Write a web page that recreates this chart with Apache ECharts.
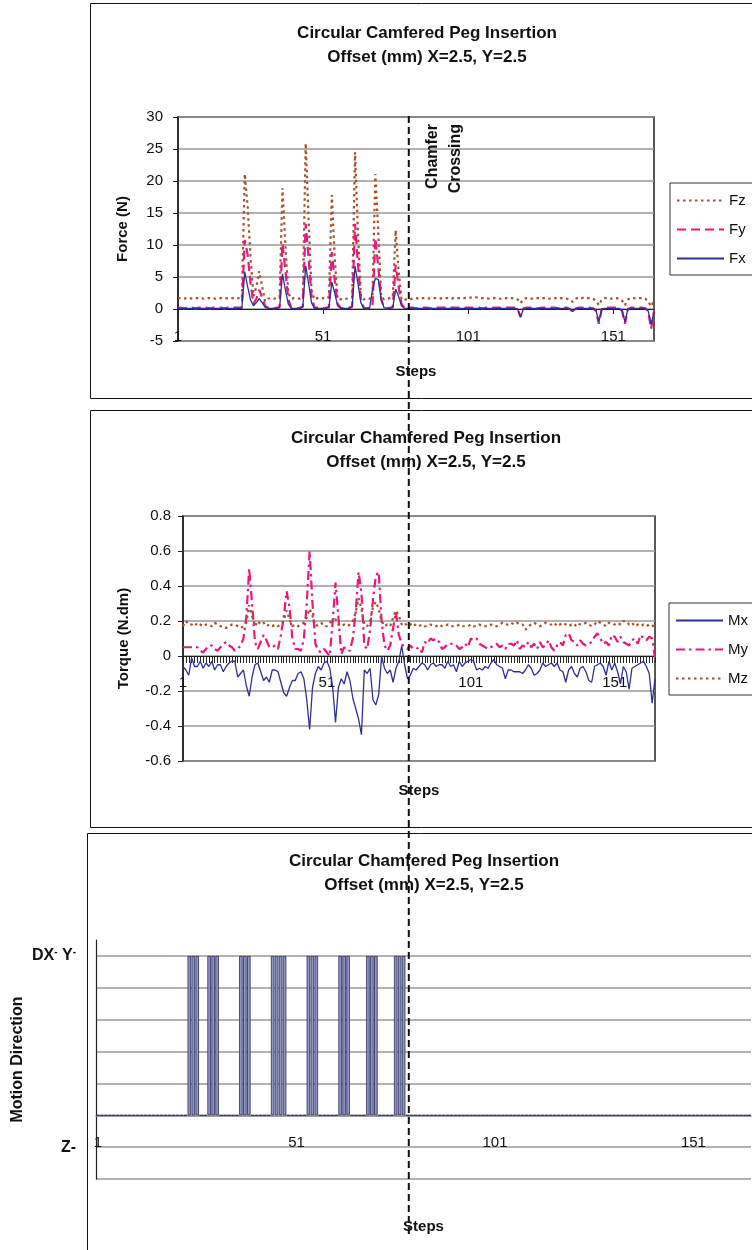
<!DOCTYPE html>
<html lang="en">
<head>
<meta charset="UTF-8">
<title>Circular Chamfered Peg Insertion</title>
<script src="https://cdn.jsdelivr.net/npm/echarts@6/dist/echarts.min.js"></script>
<style>
    html, body { margin: 0; background: #fff; }
    #main { width: 752px; height: 1250px; }
</style>
</head>
<body>
<div id="main"></div>
<script>
// ---- data ----
var stepCount = 165;
var chamferStep = 80;
var titleForce = 'Circular Camfered Peg Insertion';
var titleTorque = 'Circular Chamfered Peg Insertion';
var titleMotion = 'Circular Chamfered Peg Insertion';
var subTitle = 'Offset (mm) X=2.5, Y=2.5';

// force (N)
var fz = [
    1.7,1.7,1.6,1.7,1.7,1.6,1.7,1.7,1.7,1.6, 1.7,1.7,1.7,1.6,1.7,1.7,1.6,1.7,1.7,1.7,
    1.6,1.7,1.6,21.1,16.0,8.0,2.0,3.5,5.9,3.5, 1.2,1.6,1.7,1.6,1.7,1.8,18.9,10.0,2.5,1.6,
    1.7,1.7,1.6,1.8,25.9,14.0,3.0,1.5,1.7,1.6, 1.7,1.6,1.9,17.8,8.0,1.5,1.5,1.7,1.6,1.7,
    1.8,24.5,12.0,2.0,1.5,1.7,1.6,1.9,21.1,12.0, 2.0,1.5,1.6,1.7,2.0,12.3,6.0,1.5,1.4,1.6,
    1.5,1.7,1.7,1.6,1.7,1.7,1.6,1.7,1.7,1.7, 1.6,1.7,1.7,1.7,1.6,1.7,1.7,1.7,1.7,1.7,
    1.7,1.8,1.9,1.8,1.7,1.7,1.7,1.6,1.7,1.7, 1.7,1.6,1.7,1.7,1.7,1.7,1.6,1.5,0.9,1.5,
    1.7,1.7,1.6,1.7,1.7,1.6,1.7,1.7,1.6,1.7, 1.7,1.6,1.7,1.7,1.6,1.5,1.1,1.6,1.8,1.7,
    1.8,1.7,1.7,1.6,1.3,0.6,1.5,1.7,1.7,1.6, 1.7,1.7,1.6,1.3,0.6,1.5,1.7,1.7,1.6,1.7,
    1.7,1.6,1.2,0.4,1.3
];
var fy = [
    0.2,0.2,0.1,0.2,0.2,0.2,0.1,0.2,0.2,0.2, 0.2,0.1,0.2,0.2,0.2,0.2,0.1,0.2,0.2,0.2,
    0.2,0.2,0.3,10.8,8.5,4.0,0.8,1.6,3.0,1.8, 0.5,0.2,0.2,0.1,0.2,0.3,10.2,6.0,1.5,0.2,
    0.2,0.1,0.2,0.4,13.3,8.0,2.0,0.2,0.2,0.2, 0.1,0.2,0.3,8.9,4.5,0.8,0.2,0.1,0.2,0.2,
    0.4,13.3,7.0,1.5,0.2,0.1,0.2,0.3,11.1,6.5, 1.5,0.2,0.1,0.2,0.3,6.9,3.5,0.8,0.2,0.2,
    0.2,0.2,0.1,0.2,0.2,0.2,0.2,0.1,0.2,0.2, 0.2,0.2,0.2,0.1,0.2,0.2,0.2,0.2,0.1,0.2,
    0.2,0.2,0.2,0.2,0.2,0.1,0.2,0.2,0.2,0.2, 0.2,0.2,0.1,0.2,0.2,0.2,0.2,0.0,-1.2,0.1,
    0.2,0.2,0.2,0.2,0.1,0.2,0.2,0.2,0.2,0.2, 0.2,0.1,0.2,0.2,0.2,0.0,-0.5,0.1,0.2,0.2,
    0.2,0.2,0.2,0.1,-0.3,-2.3,0.0,0.2,0.2,0.2, 0.2,0.2,0.1,-0.3,-2.3,0.0,0.2,0.2,0.2,0.2,
    0.2,0.1,-0.4,-3.1,-0.3
];
var fx = [
    0.1,0.1,0.1,0.1,0.1,0.1,0.1,0.1,0.1,0.1, 0.1,0.1,0.1,0.1,0.1,0.1,0.1,0.1,0.1,0.1,
    0.1,0.1,0.1,5.8,3.5,1.4,0.5,1.0,1.6,1.0, 0.3,0.1,0.1,0.1,0.1,0.2,5.5,3.0,0.8,0.1,
    0.1,0.1,0.1,0.3,6.7,4.0,1.0,0.1,0.1,0.1, 0.1,0.1,0.2,4.2,2.5,0.5,0.1,0.1,0.1,0.1,
    0.3,6.7,4.0,1.0,0.1,0.1,0.1,3.0,4.8,4.6, 1.5,0.2,0.1,0.1,0.2,3.1,2.0,0.5,0.1,0.1,
    0.1,0.1,0.1,0.1,0.1,0.1,0.1,0.1,0.1,0.1, 0.1,0.1,0.1,0.1,0.1,0.1,0.1,0.1,0.1,0.1,
    0.1,0.1,0.1,0.1,0.1,0.1,0.1,0.1,0.1,0.1, 0.1,0.1,0.1,0.1,0.1,0.1,0.1,0.0,-1.3,0.0,
    0.1,0.1,0.1,0.1,0.1,0.1,0.1,0.1,0.1,0.1, 0.1,0.1,0.1,0.1,0.1,0.0,-0.4,0.0,0.1,0.1,
    0.1,0.1,0.1,0.1,-0.2,-2.0,0.0,0.1,0.1,0.1, 0.1,0.1,0.1,-0.2,-2.0,0.0,0.1,0.1,0.1,0.1,
    0.1,0.1,-0.3,-2.4,-0.5
];

// torque (N.dm)
var mx = [
    -0.06,-0.08,-0.11,-0.01,-0.06,-0.06,-0.03,-0.07,-0.04,-0.06,
    -0.03,-0.08,-0.05,-0.05,-0.09,-0.06,-0.04,-0.03,-0.03,-0.12,
    -0.10,-0.08,-0.17,-0.23,-0.12,-0.05,-0.04,-0.09,-0.14,-0.12,
    -0.15,-0.08,-0.08,-0.09,-0.15,-0.21,-0.23,-0.18,-0.14,-0.14,
    -0.10,-0.09,-0.13,-0.25,-0.42,-0.18,-0.10,-0.06,-0.08,-0.04,
    -0.03,-0.07,-0.18,-0.38,-0.18,-0.13,-0.16,-0.09,-0.14,-0.24,
    -0.30,-0.36,-0.45,-0.08,-0.10,-0.07,-0.25,-0.28,-0.22,0.00,
    -0.07,-0.10,-0.08,-0.15,-0.07,-0.03,0.06,-0.05,-0.13,-0.11,
    -0.07,-0.08,-0.06,-0.04,-0.05,-0.08,-0.05,-0.04,-0.06,-0.05,
    -0.05,-0.07,-0.03,-0.06,-0.05,-0.09,-0.03,-0.06,-0.04,-0.03,
    -0.02,-0.03,-0.08,-0.07,-0.08,-0.06,-0.07,-0.04,-0.02,-0.05,
    -0.06,-0.07,-0.13,-0.08,-0.08,-0.09,-0.09,-0.09,-0.10,-0.08,
    -0.05,-0.07,-0.11,-0.10,-0.08,-0.04,-0.06,-0.05,-0.04,-0.06,
    -0.04,-0.08,-0.09,-0.15,-0.08,-0.06,-0.10,-0.12,-0.07,-0.06,
    -0.09,-0.14,-0.15,-0.06,-0.05,-0.04,-0.06,-0.11,-0.03,-0.08,
    -0.04,-0.09,-0.16,-0.06,-0.09,-0.19,-0.07,-0.06,-0.05,-0.04,
    -0.03,-0.06,-0.10,-0.27,-0.13
];
var my = [
    0.05,0.05,0.05,0.05,0.05,0.05,0.03,0.02,0.04,0.06,
    0.06,0.04,0.03,0.05,0.07,0.08,0.06,0.05,0.03,0.04,
    0.06,0.10,0.22,0.50,0.30,0.08,0.04,0.08,0.12,0.09,
    0.05,0.05,0.06,0.04,0.12,0.22,0.37,0.28,0.10,0.04,
    0.04,0.03,0.10,0.30,0.60,0.30,0.07,0.03,0.02,0.04,
    0.02,0.00,0.20,0.42,0.22,0.01,0.05,0.03,0.03,0.10,
    0.25,0.48,0.36,0.06,0.04,0.15,0.32,0.46,0.48,0.20,
    0.06,0.03,0.06,0.16,0.25,0.12,0.07,0.05,0.04,0.06,
    0.04,0.04,0.05,0.02,0.08,0.07,0.10,0.09,0.10,0.08,
    0.04,0.05,0.07,0.07,0.07,0.06,0.04,0.05,0.07,0.05,
    0.10,0.09,0.10,0.07,0.06,0.05,0.04,0.05,0.06,0.07,
    0.05,0.06,0.04,0.07,0.07,0.06,0.09,0.04,0.06,0.05,
    0.08,0.05,0.07,0.04,0.08,0.05,0.06,0.09,0.05,0.03,
    0.06,0.08,0.06,0.12,0.13,0.09,0.08,0.06,0.09,0.07,
    0.06,0.07,0.08,0.11,0.13,0.10,0.07,0.08,0.06,0.12,
    0.11,0.08,0.11,0.08,0.07,0.06,0.09,0.10,0.07,0.12,
    0.10,0.09,0.11,0.10,-0.01
];
var mz = [
    0.17,0.20,0.18,0.18,0.17,0.19,0.18,0.17,0.18,0.18,
    0.17,0.19,0.18,0.17,0.17,0.16,0.17,0.18,0.18,0.17,
    0.16,0.17,0.19,0.29,0.23,0.17,0.20,0.18,0.19,0.17,
    0.18,0.17,0.18,0.17,0.18,0.20,0.26,0.21,0.17,0.18,
    0.17,0.18,0.19,0.22,0.27,0.23,0.17,0.18,0.19,0.17,
    0.17,0.19,0.20,0.21,0.18,0.17,0.18,0.17,0.18,0.20,
    0.25,0.33,0.27,0.18,0.17,0.20,0.28,0.31,0.27,0.20,
    0.17,0.18,0.17,0.22,0.26,0.23,0.18,0.19,0.17,0.18,
    0.19,0.17,0.17,0.18,0.17,0.17,0.18,0.17,0.17,0.18,
    0.17,0.17,0.18,0.17,0.17,0.17,0.18,0.17,0.17,0.17,
    0.18,0.17,0.17,0.18,0.17,0.17,0.17,0.18,0.17,0.17,
    0.18,0.19,0.18,0.18,0.19,0.18,0.19,0.18,0.18,0.15,
    0.17,0.18,0.19,0.18,0.17,0.18,0.19,0.18,0.18,0.19,
    0.17,0.18,0.19,0.18,0.17,0.18,0.17,0.19,0.18,0.18,
    0.19,0.18,0.17,0.18,0.20,0.19,0.18,0.17,0.19,0.18,
    0.18,0.19,0.18,0.20,0.20,0.18,0.19,0.17,0.18,0.17,
    0.18,0.17,0.18,0.18,0.15
];

// motion direction: steps where the peg moves DX- Y- (otherwise Z-)
var dxySteps = [24,25,26, 29,30,31, 37,38,39, 45,46,47,48, 54,55,56, 62,63,64, 69,70,71, 76,77,78];
var dxyLevel = 5;   // "DX- Y-" row
var zLevel = -1;    // "Z-" row

// ---- build ----
var steps = [];
for (var i = 1; i <= stepCount; i++) steps.push(String(i));
var motion = steps.map(function (s) {
    return dxySteps.indexOf(Number(s)) >= 0 ? dxyLevel : 0;
});

var FONT = 'Liberation Sans, Arial, sans-serif';
var brown = '#A5522A', pink = '#E8187F', navy = '#2E3192';

function xAxisFor(grid, nameGap, labelMargin, opts) {
    var a = {
        type: 'category', gridIndex: grid, data: steps, boundaryGap: false,
        axisLine: { onZero: true, lineStyle: { color: '#222', width: 1.2 } },
        axisTick: { interval: 49, length: 5, lineStyle: { color: '#222' } },
        axisLabel: { interval: 49, color: '#111', fontSize: 15, fontFamily: FONT, margin: labelMargin },
        splitLine: { show: false },
        name: 'Steps', nameLocation: 'middle', nameGap: nameGap,
        nameTextStyle: { fontSize: 15, fontWeight: 'bold', color: '#111', fontFamily: FONT }
    };
    for (var k in opts) a[k] = opts[k];
    return a;
}

function lineSeries(name, data, ax, color, type, width) {
    return {
        name: name, type: 'line', xAxisIndex: ax, yAxisIndex: ax, data: data,
        symbol: 'none', z: 3,
        lineStyle: { color: color, width: width, type: type },
        itemStyle: { color: color }
    };
}

var legendBase = {
    orient: 'vertical', itemWidth: 47, itemHeight: 12, itemGap: 14,
    borderColor: '#333', borderWidth: 1, backgroundColor: '#fff',
    padding: [10, 60, 9, 6],
    itemStyle: { opacity: 0, borderWidth: 0 },
    textStyle: { fontSize: 15, color: '#111', fontFamily: FONT }
};

var option = {
    animation: false,
    backgroundColor: '#fff',
    textStyle: { fontFamily: FONT },
    grid: [
        { left: 178, top: 117, width: 476, height: 224, show: true, borderColor: '#222', borderWidth: 1.5, outerBoundsMode: 'none' },
        { left: 183, top: 516, width: 472, height: 245, show: true, borderColor: '#222', borderWidth: 1.5, outerBoundsMode: 'none' },
        { left: 96, top: 940, width: 655, height: 239, outerBoundsMode: 'none' }
    ],
    legend: [
        Object.assign({}, legendBase, { data: ['Fz', 'Fy', 'Fx'], left: 670, top: 183 }),
        Object.assign({}, legendBase, { data: ['Mx', 'My', 'Mz'], left: 669, top: 603 })
    ],
    xAxis: [
        xAxisFor(0, 23, -12, {}),
        xAxisFor(1, 22, -86, { axisTick: { interval: 0, length: 7, lineStyle: { color: '#222' } } }),
        xAxisFor(2, 40, -44, {
            boundaryGap: true,
            axisLine: { onZero: true, lineStyle: { color: '#999', width: 1.5 } },
            axisTick: { interval: 49, alignWithLabel: true, length: 4, lineStyle: { color: '#555' } }
        })
    ],
    yAxis: [
        {
            type: 'value', gridIndex: 0, min: -5, max: 30, interval: 5,
            axisLine: { show: true, lineStyle: { color: '#222', width: 1.5 } },
            axisTick: { show: true, length: 5, lineStyle: { color: '#222' } },
            axisLabel: { color: '#111', fontSize: 15, margin: 15 },
            splitLine: { lineStyle: { color: '#999', width: 1.5 } },
            name: 'Force (N)', nameLocation: 'middle', nameGap: 48,
            nameTextStyle: { fontSize: 15, fontWeight: 'bold', color: '#111' }
        },
        {
            type: 'value', gridIndex: 1, min: -0.6, max: 0.8, interval: 0.2,
            axisLine: { show: true, lineStyle: { color: '#222', width: 1.5 } },
            axisTick: { show: true, length: 5, lineStyle: { color: '#222' } },
            axisLabel: {
                color: '#111', fontSize: 15, margin: 12,
                formatter: function (v) { return String(Math.round(v * 10) / 10); }
            },
            splitLine: { lineStyle: { color: '#999', width: 1.5 } },
            name: 'Torque (N.dm)', nameLocation: 'middle', nameGap: 52,
            nameTextStyle: { fontSize: 15, fontWeight: 'bold', color: '#111' }
        },
        {
            type: 'value', gridIndex: 2, min: -2, max: 5.5, interval: 1,
            axisLine: { show: true, lineStyle: { color: '#222', width: 1.2 } },
            axisTick: { show: false },
            axisLabel: {
                margin: 20, showMaxLabel: false,
                formatter: function (v) {
                    if (v === dxyLevel) return '{a|DX}{s|-}{a| Y}{s|-}';
                    if (v === zLevel) return '{a|Z-}';
                    return '';
                },
                rich: {
                    a: { fontSize: 16, fontWeight: 'bold', color: '#111', fontFamily: FONT },
                    s: { fontSize: 10, fontWeight: 'bold', color: '#111', fontFamily: FONT, verticalAlign: 'top', padding: [0, 0, 8, 0] }
                }
            },
            splitLine: { showMaxLine: false, lineStyle: { color: '#999', width: 1.5 } },
            name: 'Motion Direction', nameLocation: 'middle', nameGap: 70, nameMoveOverlap: false,
            nameTextStyle: { fontSize: 16, fontWeight: 'bold', color: '#111' }
        }
    ],
    series: [
        lineSeries('Fz', fz, 0, brown, [2.5, 3.5], 2.2),
        lineSeries('Fy', fy, 0, pink, [9, 5], 2.2),
        lineSeries('Fx', fx, 0, navy, 'solid', 1.3),
        lineSeries('Mx', mx, 1, navy, 'solid', 1.3),
        lineSeries('My', my, 1, pink, [9, 4, 2.5, 4], 2.2),
        lineSeries('Mz', mz, 1, brown, [2.5, 3.5], 2.2),
        {
            name: 'Motion', type: 'bar', xAxisIndex: 2, yAxisIndex: 2, data: motion,
            barWidth: '88%',
            itemStyle: { color: '#8E98CC', borderColor: '#2A2A50', borderWidth: 0.8 }
        }
    ]
};

var chart = echarts.init(document.getElementById('main'), null, { renderer: 'canvas' });
chart.setOption(option);

// chamfer crossing marker + chart frames
var cx = chart.convertToPixel({ xAxisIndex: 0 }, chamferStep - 1);
var titleStyle = { fontSize: 17, fontWeight: 'bold', fill: '#111', fontFamily: FONT, textAlign: 'center', textVerticalAlign: 'middle', lineHeight: 24 };
function titleText(x, y, t) {
    return { type: 'text', x: x, y: y, style: Object.assign({ text: t + '\n' + subTitle }, titleStyle) };
}
chart.setOption({
    graphic: [
        { type: 'rect', shape: { x: 90.5, y: 3.5, width: 700, height: 395 }, style: { fill: 'none', stroke: '#111', lineWidth: 1 } },
        { type: 'rect', shape: { x: 90.5, y: 410.5, width: 700, height: 417 }, style: { fill: 'none', stroke: '#111', lineWidth: 1 } },
        { type: 'rect', shape: { x: 87.5, y: 833.5, width: 700, height: 430 }, style: { fill: 'none', stroke: '#111', lineWidth: 1 } },
        titleText(427, 45, titleForce),
        titleText(426, 450, titleTorque),
        titleText(424, 873, titleMotion),
        {
            type: 'line', z: 100,
            shape: { x1: cx + 1.5, y1: 116, x2: cx + 1.5, y2: 1238 },
            style: { stroke: '#111', lineWidth: 2, lineDash: [7, 4] }
        },
        {
            type: 'text', z: 100, x: cx + 37, y: 124, rotation: Math.PI / 2,
            style: {
                text: 'Chamfer\nCrossing', fontSize: 16, fontWeight: 'bold', fill: '#111', fontFamily: FONT,
                textAlign: 'right', textVerticalAlign: 'middle', lineHeight: 23
            }
        }
    ]
});
</script>
</body>
</html>
